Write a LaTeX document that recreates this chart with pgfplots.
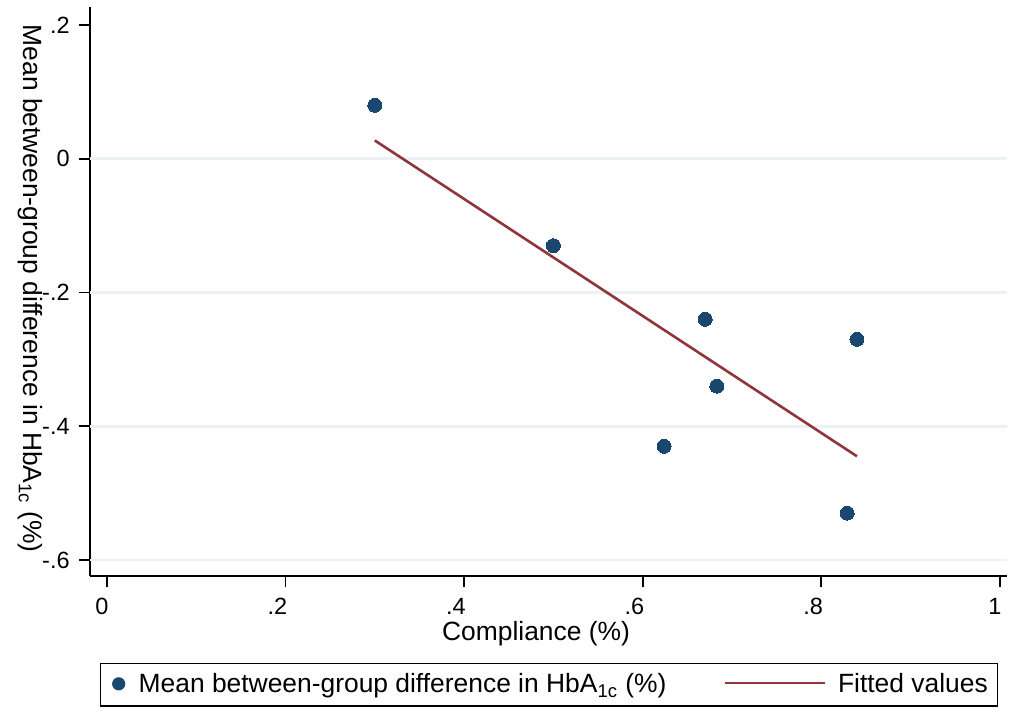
\documentclass[border=0pt]{standalone}
\usepackage{fontspec}
\setmainfont{Liberation Sans}
\usepackage{pgfplots}
\pgfplotsset{compat=1.18}
\definecolor{stblue}{HTML}{1A476F}
\definecolor{stred}{HTML}{90353B}
\definecolor{stgrid}{HTML}{EAF2F3}
\begin{document}
\begin{tikzpicture}
\begin{axis}[
  scale only axis,
  width=458.5pt, height=284.5pt,
  xmin=-0.019, xmax=1.008,
  ymin=-0.624, ymax=0.227,
  axis x line*=bottom, axis y line*=left,
  axis line style={black, line width=0.9pt},
  tick align=outside,
  major tick length=5.5pt,
  tick style={black, line width=0.8pt},
  xtick={0,0.2,0.4,0.6,0.8,1},
  xticklabels={0,.2,.4,.6,.8,1},
  ytick={-0.6,-0.4,-0.2,0,0.2},
  yticklabels={-.6,-.4,-.2,0,.2},
  extra y ticks={-0.6,-0.4,-0.2,0},
  extra y tick labels={},
  extra y tick style={grid=major, major tick length=0pt},
  grid style={stgrid, line width=1.4pt},
  font=\fontsize{11.75}{14}\selectfont,
  ticklabel style={font=\fontsize{11.75}{14}\selectfont},
  /pgf/number format/assume math mode=true,
  xticklabel style={anchor=base east, inner sep=0pt, xshift=1pt, yshift=-13.8pt},
  yticklabel style={anchor=east, inner sep=0pt, xshift=-4.5pt},
  xlabel={Compliance (\%)},
  xlabel style={at={(axis description cs:0.4864,-0.1125)}, anchor=base, inner sep=0pt,
    font=\fontsize{13.2}{15}\selectfont},
  ylabel={Mean between-group difference in HbA\textsubscript{1c} (\%)},
  ylabel style={at={(axis description cs:-0.0654,0.505)}, rotate=180, anchor=center, inner sep=0pt,
    font=\fontsize{13.2}{15}\selectfont},
  legend columns=2,
  legend style={
    at={(axis description cs:0.0109,-0.1529)}, anchor=north west,
    draw=black, line width=0.7pt,
    inner xsep=5pt, inner ysep=5pt,
    font=\fontsize{13.2}{15}\selectfont,
    nodes={inner sep=0pt, anchor=base west},
    /tikz/column 1/.style={column sep=6pt},
    /tikz/column 2/.style={column sep=28.5pt},
    /tikz/column 3/.style={column sep=6pt},
  },
]
\addplot[only marks, mark=*, mark size=3.5pt, mark options={fill=stblue, draw=stblue, line width=0pt},
  legend image code/.code={\path[draw=none, fill=none] (0pt,1pt) rectangle (8pt,8pt); \path[fill=stblue, draw=none] (4pt,4.5pt) circle (3.3pt);}]
  coordinates {
  (0.300, 0.080)
  (0.500,-0.130)
  (0.670,-0.240)
  (0.683,-0.340)
  (0.624,-0.430)
  (0.840,-0.270)
  (0.829,-0.530)
};
\addlegendentry{Mean between-group difference in HbA\textsubscript{1c} (\%)}
\addplot[stred, line width=1.3pt,
  legend image code/.code={\draw[stred, line width=1.3pt] (0pt,5pt) -- (50pt,5pt);}]
  coordinates {
  (0.300, 0.0274)
  (0.840,-0.4450)
};
\addlegendentry{Fitted values\hspace{2.5pt}}
\end{axis}
\pgfresetboundingbox
\useasboundingbox (-45pt,-68.5pt) rectangle (461pt,288pt);
\end{tikzpicture}
\end{document}
